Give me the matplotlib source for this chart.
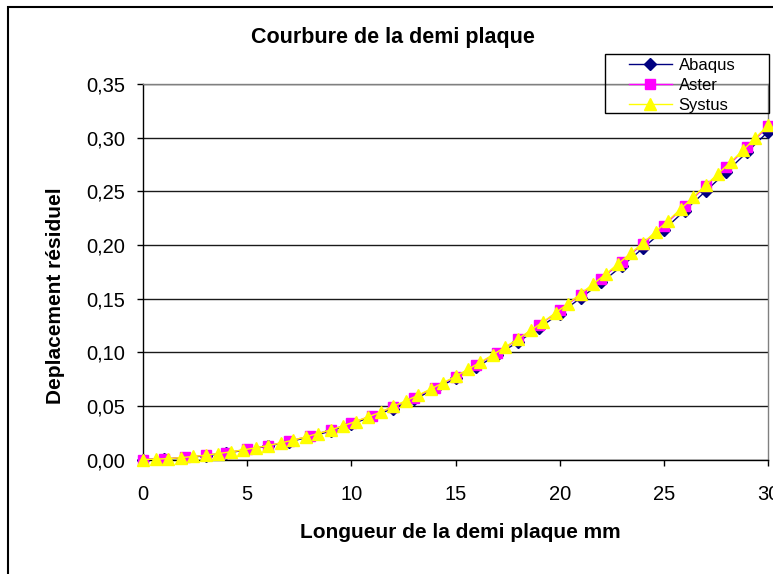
import numpy as np
import matplotlib
matplotlib.use("Agg")
import matplotlib.pyplot as plt
from matplotlib.patches import Rectangle

plt.rcParams["font.family"] = ["Liberation Sans", "DejaVu Sans"]

# Abaqus / Aster : un point par mm
x_mm = [0, 1, 2, 3, 4, 5, 6, 7, 8, 9, 10, 11, 12, 13, 14, 15,
        16, 17, 18, 19, 20, 21, 22, 23, 24, 25, 26, 27, 28, 29, 30]

abaqus = [0.0000, 0.0005, 0.0015, 0.0035, 0.0060, 0.0090, 0.0125, 0.0165,
          0.0210, 0.0265, 0.0330, 0.0400, 0.0475, 0.0560, 0.0655, 0.0755,
          0.0860, 0.0975, 0.1095, 0.1225, 0.1360, 0.1505, 0.1650, 0.1805,
          0.1970, 0.2140, 0.2320, 0.2500, 0.2680, 0.2865, 0.3055]

aster = [0.0000, 0.0005, 0.0020, 0.0040, 0.0065, 0.0095, 0.0130, 0.0170,
         0.0220, 0.0275, 0.0340, 0.0410, 0.0490, 0.0575, 0.0670, 0.0770,
         0.0880, 0.0995, 0.1120, 0.1250, 0.1390, 0.1535, 0.1685, 0.1845,
         0.2010, 0.2180, 0.2360, 0.2545, 0.2725, 0.2910, 0.3105]

# Systus : pas de 0,6 mm
x_systus = [0.0, 0.6, 1.2, 1.8, 2.4, 3.0, 3.6, 4.2, 4.8, 5.4,
            6.0, 6.6, 7.2, 7.8, 8.4, 9.0, 9.6, 10.2, 10.8, 11.4,
            12.0, 12.6, 13.2, 13.8, 14.4, 15.0, 15.6, 16.2, 16.8, 17.4,
            18.0, 18.6, 19.2, 19.8, 20.4, 21.0, 21.6, 22.2, 22.8, 23.4,
            24.0, 24.6, 25.2, 25.8, 26.4, 27.0, 27.6, 28.2, 28.8, 29.4, 30.0]

systus = [0.0000, 0.0003, 0.0008, 0.0017, 0.0028, 0.0040, 0.0055, 0.0071,
          0.0089, 0.0109, 0.0130, 0.0154, 0.0180, 0.0210, 0.0242, 0.0275,
          0.0314, 0.0354, 0.0396, 0.0442, 0.0495, 0.0546, 0.0599, 0.0656,
          0.0715, 0.0775, 0.0841, 0.0908, 0.0977, 0.1050, 0.1125, 0.1203,
          0.1283, 0.1367, 0.1453, 0.1545, 0.1635, 0.1727, 0.1823, 0.1921,
          0.2020, 0.2122, 0.2226, 0.2334, 0.2444, 0.2555, 0.2663, 0.2772,
          0.2883, 0.2998, 0.3115]

xticks = [0, 5, 10, 15, 20, 25, 30]
yticks = [0.00, 0.05, 0.10, 0.15, 0.20, 0.25, 0.30, 0.35]
ylabels = ["0,00", "0,05", "0,10", "0,15", "0,20", "0,25", "0,30", "0,35"]

W, H = 773, 574
fig = plt.figure(figsize=(W / 100, H / 100), dpi=100)
ax = fig.add_axes([143 / W, 1 - 459.5 / H, 625 / W, 375.5 / H])

ax.plot(x_mm, abaqus, color="#000080", lw=1, marker="D", ms=6,
        mfc="#000080", mec="#000080", label="Abaqus", clip_on=False, zorder=3)
ax.plot(x_mm, aster, color="#FF00FF", lw=1, marker="s", ms=7,
        mfc="#FF00FF", mec="#FF00FF", label="Aster", clip_on=False, zorder=4)
ax.plot(x_systus, systus, color="#FFFF00", lw=1, marker="^", ms=9,
        mfc="#FFFF00", mec="#FFFF00", label="Systus", clip_on=False, zorder=5)

ax.set_xlim(0, 30)
ax.set_ylim(0, 0.35)
ax.set_xticks(xticks)
ax.set_xticklabels([str(t) for t in xticks])
ax.set_yticks(yticks)
ax.set_yticklabels(ylabels)
ax.tick_params(axis="both", direction="out", length=4, width=1,
               labelsize=14.5, color="black")
ax.tick_params(axis="x", pad=14)
ax.tick_params(axis="y", pad=9)

ax.grid(axis="y", color="#1a1a1a", lw=1)
ax.set_axisbelow(True)
for s in ["left", "bottom"]:
    ax.spines[s].set_color("black")
    ax.spines[s].set_linewidth(1)
for s in ["top", "right"]:
    ax.spines[s].set_color("#808080")
    ax.spines[s].set_linewidth(1)

fig.text(393 / W, 1 - 37 / H, "Courbure de la demi plaque", ha="center",
         va="center", fontsize=15.5, fontweight="bold")
fig.text(460 / W, 1 - 532 / H, "Longueur de la demi plaque mm", ha="center",
         va="center", fontsize=15, fontweight="bold")
fig.text(56 / W, 1 - 296 / H, "Deplacement résiduel", ha="center",
         va="center", fontsize=15, fontweight="bold", rotation=90)

# cadre de la légende
fig.patches.append(Rectangle((605 / W, 1 - 113 / H), 164 / W, 59 / H,
                             transform=fig.transFigure, fill=False,
                             ec="black", lw=1))
leg = fig.legend(loc="upper left", bbox_to_anchor=(627 / W, 1 - 56 / H),
                 frameon=False, fontsize=12, handlelength=2.6,
                 handletextpad=0.4, labelspacing=0.3, borderpad=0.1,
                 borderaxespad=0)

# cadre du graphique
fig.patches.append(Rectangle((8 / W, -0.1), 1.2, 1 - 7 / H + 0.1,
                             transform=fig.transFigure, fill=False,
                             ec="black", lw=1.5))

fig.savefig("out.png", dpi=100)
